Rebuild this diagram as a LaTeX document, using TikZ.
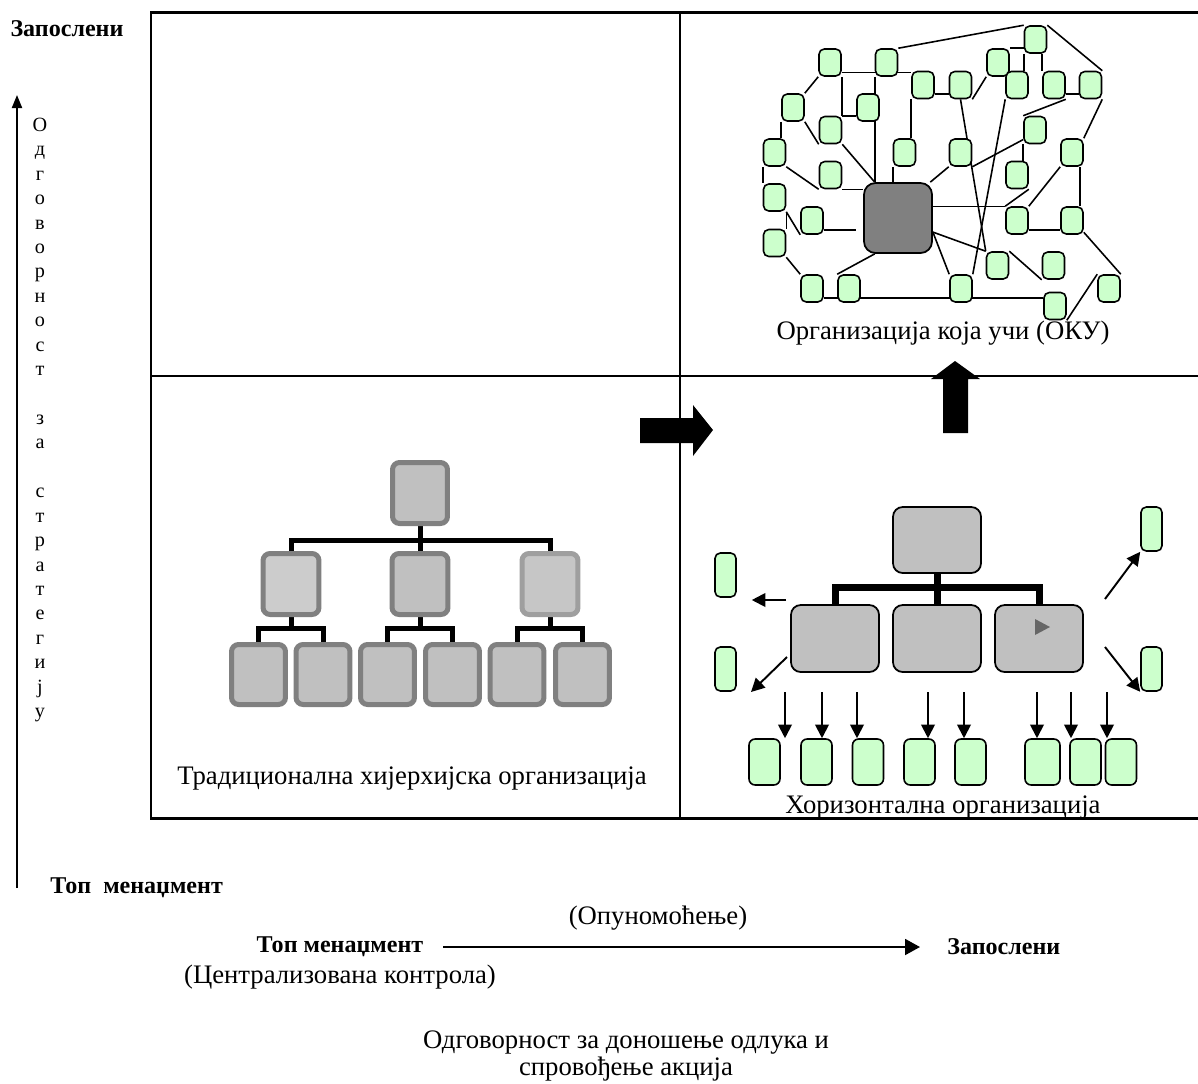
\documentclass[tikz,border=0pt]{standalone}
\usepackage{fontspec}
\setmainfont{Liberation Serif}
\usetikzlibrary{arrows.meta}

\pgfdeclarelayer{background}
\pgfsetlayers{background,main}

\definecolor{vertclair}{HTML}{CCFFCC}
\definecolor{grisboite}{HTML}{C0C0C0}
\definecolor{grisbord}{HTML}{808080}

\tikzset{
  cadre/.style={line width=1.7pt},
  lien/.style={line width=0.9pt},
  vert/.style={draw, line width=0.9pt, fill=vertclair, rounded corners=3pt,
    minimum width=0.44cm, minimum height=0.54cm, inner sep=0pt},
  hbox/.style={draw, line width=1pt, fill=grisboite, rounded corners=5.5pt,
    minimum width=1.76cm, minimum height=1.34cm, inner sep=0pt},
  lbox/.style={draw=grisbord, line width=0.1cm, fill=grisboite, rounded corners=4pt,
    minimum width=1.08cm, minimum height=1.2cm, inner sep=0pt},
  lbarre/.style={line width=0.1cm},
  hbarre/.style={line width=0.14cm},
  fleche/.style={line width=1.1pt, -{Triangle[length=0.27cm,width=0.27cm]}},
  texte/.style={font=\fontsize{15.2}{18}\selectfont, inner sep=0pt},
  gras/.style={font=\fontsize{13.7}{16}\selectfont\bfseries, inner sep=0pt}
}

\begin{document}
\begin{tikzpicture}[x=0.02cm, y=-0.02cm]
  \useasboundingbox (0,0) rectangle (1198,1083);

  % Cadre
  \draw[cadre] (1198,12) -- (151,12) -- (151,818) -- (1198,818);
  \draw[line width=1.2pt] (151,376) -- (1198,376);
  \draw[line width=1.2pt] (680,12) -- (680,818);

  % Axe vertical
  \coordinate (axbas) at (17,888);
  \coordinate (axhaut) at (17,95);
  \draw[line width=1.1pt, -{Triangle[length=0.26cm,width=0.2cm]}] (axbas) -- (axhaut);
  \node[gras] (empl) at (67,29) {Запослени};
  \node[gras, anchor=west] (topm) at (50,888) {Топ\ \ менаџмент};
  \node[font=\fontsize{11.5}{13.9}\selectfont, align=center, inner sep=0pt] (odgov) at (40,420)
    {О\\д\\г\\о\\в\\о\\р\\н\\о\\с\\т\\\mbox{}\\з\\а\\\mbox{}\\с\\т\\р\\а\\т\\е\\г\\и\\ј\\у};

  % Organisation hierarchique
  \node[lbox, minimum width=1.1cm, minimum height=1.22cm] (lt) at (420,493) {};
  \node[lbox, fill=gray!40, minimum width=1.12cm, minimum height=1.22cm] (lm1) at (291,584) {};
  \node[lbox, minimum width=1.12cm, minimum height=1.22cm] (lm2) at (420,584) {};
  \node[lbox, draw=gray!75, fill=gray!45, minimum width=1.12cm, minimum height=1.22cm] (lm3) at (550,584) {};
  \foreach \n/\x in {lb1/258.5, lb2/323, lb3/387.5, lb4/452.5, lb5/517, lb6/582.5}
    \node[lbox] (\n) at (\x,674.5) {};
  \coordinate (lbar) at (0,540);
  \coordinate (lsub) at (0,628);
  \begin{pgfonlayer}{background}
    \draw[lbarre] (lm1.north) |- (lm3.north |- lbar) -- (lm3.north);
    \draw[lbarre] (lt.south) -- (lm2.north);
    \draw[lbarre] (lb1.north) |- (lb2.north |- lsub) -- (lb2.north);
    \draw[lbarre] (lb3.north) |- (lb4.north |- lsub) -- (lb4.north);
    \draw[lbarre] (lb5.north) |- (lb6.north |- lsub) -- (lb6.north);
    \draw[lbarre] (lm1.south) -- (lm1.south |- lsub);
    \draw[lbarre] (lm2.south) -- (lm2.south |- lsub);
    \draw[lbarre] (lm3.south) -- (lm3.south |- lsub);
  \end{pgfonlayer}
  \node[texte] (ttrad) at (412,778) {Традиционална хијерхијска организација};

  % Fleches pleines
  \fill (640,418) -- (693,418) -- (693,405) -- (713,430) -- (693,456) -- (693,443) -- (640,443) -- cycle;
  \fill (943,433) -- (943,379) -- (931,379) -- (955,361) -- (980,379) -- (968,379) -- (968,433) -- cycle;

  % Organisation horizontale
  \node[hbox, minimum height=1.32cm] (htop) at (937,540) {};
  \node[hbox] (hm1) at (835,638.5) {};
  \node[hbox] (hm2) at (937,638.5) {};
  \node[hbox] (hm3) at (1039,638.5) {};
  \fill[black!60] (1035,619) -- (1050,627) -- (1035,635) -- cycle;
  \coordinate (hbar) at (0,587);
  \begin{pgfonlayer}{background}
    \draw[hbarre] (hm1.north) |- (hm3.north |- hbar) -- (hm3.north);
    \draw[hbarre] (htop.south) -- (hm2.north);
  \end{pgfonlayer}
  \node[vert, minimum width=0.42cm, minimum height=0.88cm] (hl1) at (725.5,575) {};
  \node[vert, minimum width=0.42cm, minimum height=0.88cm] (hl2) at (725.5,669) {};
  \node[vert, minimum width=0.42cm, minimum height=0.88cm] (hr1) at (1151.5,529) {};
  \node[vert, minimum width=0.42cm, minimum height=0.88cm] (hr2) at (1151.5,669) {};
  \coordinate (fl1) at (786,600);
  \coordinate (fl2) at (787,657);
  \coordinate (fl2b) at (751,692);
  \coordinate (fr1) at (1105,599);
  \coordinate (fr2) at (1105,647);
  \draw[fleche, shorten >=0.3cm] (fl1) -- (fl1 -| hl1.east);
  \draw[fleche] (fl2) -- (fl2b);
  \draw[fleche] (fr1) -- (hr1.south west);
  \draw[fleche] (fr2) -- (hr2.south west);
  \foreach \n/\x/\w in {hb1/764.5/0.62, hb2/816.5/0.62, hb3/868/0.62, hb4/919.5/0.62,
      hb5/970.5/0.62, hb6/1042.5/0.7, hb7/1085.5/0.62, hb8/1121/0.62}
    \node[vert, rounded corners=3.5pt, minimum width=\w cm, minimum height=0.92cm] (\n) at (\x,762) {};
  \foreach \x [count=\i] in {785,822,857,928,964,1037,1071,1107} {
    \coordinate (fd\i) at (\x,692);
    \draw[fleche] (fd\i) -- (fd\i |- hb1.north);
  }
  \node[texte] (thor) at (943,807) {Хоризонтална организација};

  % Organisation qui apprend
  \foreach \n/\x/\y in {n1/1035.5/39.5, n2/830/62.5, n3/886.5/62.5, n4/998/62.5,
      n5/923/85, n6/960.5/85, n7/1017/85, n8/1054/85, n9/1090.5/85,
      n10/793/107.5, n11/868/107.5, n12/830.5/130, n13/1035/130,
      n14/774.5/152.5, n15/904.5/152.5, n16/960.5/152.5, n17/1072/152.5,
      n18/830.5/175, n19/1017/175, n21/774.5/197.5, n22/812/220.5,
      n23/1017/220.5, n24/1072/220.5, n25/774.5/243, n26/997.5/265.5,
      n27/1053.5/265.5, n28/812/288.5, n29/849/288.5, n30/961/288.5,
      n31/1109/288.5, n32/1055/306}
    \node[vert] (\n) at (\x,\y) {};
  \node[draw, line width=1pt, fill=grisbord, rounded corners=6.5pt, minimum width=1.36cm,
    minimum height=1.4cm, inner sep=0pt] (hub) at (898,218) {};
  \begin{pgfonlayer}{background}
    \draw[lien] (n3.north east) -- (n1.north west);
    \draw[lien] (n1.north east) -- (n9.north east);
    \draw[lien] (n4.north east) -- (n4.north east -| n1.west);
    \draw[lien] (n1.south west) -- (n1.south west |- n7.north);
    \draw[lien] (n8.north west) -- (n8.north west |- n1.south);
    \draw[lien] (n2.south west) -- (n10.north east);
    \draw[lien] (n2.-40) -- (n2.-40 -| n5.west);
    \draw[lien] (n2.south east) -- (n2.south east |- n12.north);
    \draw[lien] (n12.north east) -- (n12.north east -| n11.west);
    \draw[lien] (n3.south west) -- (n3.south west |- hub.north);
    \draw[lien] (n12.south east) -- (hub.123);
    \draw[lien] (n10.south east) -- (n12.south west);
    \draw[lien] (n10.south west) -- (n10.south west |- n14.north);
    \draw[lien] (n14.south east) -- (n18.south west);
    \draw[lien] (n18.south east) -- (n18.south east -| hub.west);
    \draw[lien] (n14.south west) -- (n21.north west);
    \draw[lien] (n21.south east) -- (n22.south west);
    \draw[lien] (n21.south east) -- (n25.north east);
    \draw[lien, shorten >=0.14cm] (n22.-38) -- (n22.-38 -| hub.west);
    \draw[lien] (n25.south east) -- (n28.north west);
    \draw[lien] (n28.-38) -- (n28.-38 -| n32.west);
    \draw[lien] (hub.-123) -- (n29.north west);
    \draw[lien] (hub.18) -- (hub.18 -| n23.west);
    \draw[lien] (hub.-22) -- (n30.north west);
    \draw[lien] (hub.-22) -- (n26.north west);
    \draw[lien] (n26.north east) -- (n27.south west);
    \draw[lien] (n23.-38) -- (n23.-38 -| n24.west);
    \draw[lien] (n24.-45) -- (n31.north east);
    \draw[lien] (n31.north west) -- (n32.south east);
    \draw[lien] (n19.south east) -- (n23.north west);
    \draw[lien] (n23.north east) -- (n17.south west);
    \draw[lien] (n17.-60) -- (n17.-60 |- n24.north);
    \draw[lien] (n9.south east) -- (n17.north east);
    \draw[lien] (n8.-38) -- (n8.-38 -| n9.west);
    \draw[lien] (n8.south east) -- (n13.north west);
    \draw[lien] (n13.south west) -- (n13.south west |- n19.north);
    \draw[lien] (n16.south east) -- (n13.-141);
    \draw[lien] (n16.south west) -- (hub.48);
    \draw[lien] (n6.south east) -- (n4.south west);
    \draw[lien] (n6.south) -- (n26.north west);
    \draw[lien] (n5.-38) -- (n5.-38 -| n6.west);
    \draw[lien] (n5.south west) -- (n5.south west |- n15.north);
    \draw[lien] (n15.south west) -- (n15.south west |- hub.north);
    \draw[lien] (n7.south west) -- (n30.north east);
  \end{pgfonlayer}
  \node[texte] (toku) at (943,333) {Организација која учи (ОКУ)};

  % Axe horizontal
  \node[texte] (opun) at (658,918) {(Опуномоћење)};
  \node[gras] (topm2) at (340,947) {Топ менаџмент};
  \node[gras, anchor=west] (empl2) at (947,947) {Запослени};
  \coordinate (axg) at (443,947);
  \draw[line width=1.1pt, -{Triangle[length=0.3cm,width=0.32cm]}] (axg) -- (empl2.west -| 920,0);
  \node[texte] (centr) at (340,977) {(Централизована контрола)};
  \node[texte, align=center, font=\fontsize{15.2}{15.9}\selectfont] (odl) at (626,1056)
    {Одговорност за доношење одлука и\\спровођење акција};
\end{tikzpicture}
\end{document}
